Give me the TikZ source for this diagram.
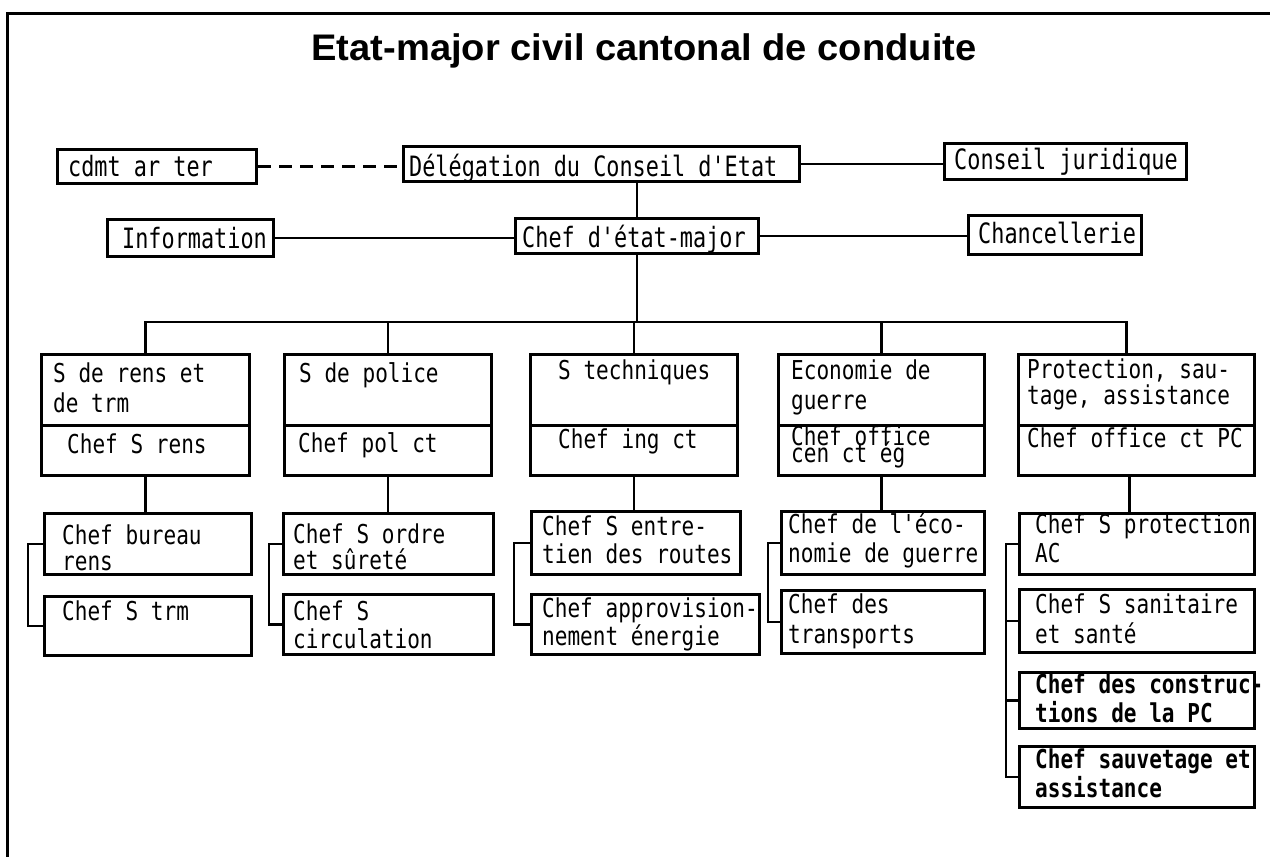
\documentclass[tikz,border=0pt]{standalone}
\usepackage{fontspec}
\setmainfont{DejaVu Sans Mono}
\newfontfamily\twf[FakeStretch=0.81]{DejaVu Sans Mono}
\newfontfamily\twtop[FakeStretch=0.78]{DejaVu Sans Mono}
\newfontfamily\titlef[FakeStretch=1.03]{Liberation Sans}
\newcommand\mybox[5]{\node[bx, minimum width=#4pt, minimum height=#5pt] (#1) at (#2,#3) {};}
% style, name, dx, baseline offset, box, text
\newcommand\btext[6]{\node[#1] (#2) at ([shift={(#3,#4-25)}]#5.north west) {\rule{0pt}{25pt}#6};}
\begin{document}
\begin{tikzpicture}[x=1pt,y=-1pt,
  bx/.style={draw, line width=3pt, inner sep=0pt, anchor=north west},
  ln/.style={line width=2.5pt},
  dln/.style={line width=2.5pt, dash pattern=on 13pt off 8pt},
  tx/.style={inner sep=0pt, anchor=north west, align=left, font=\twf\fontsize{26}{#1}\selectfont},
  tx/.default=28,
  txb/.style={tx=#1, font=\twf\bfseries\fontsize{26}{#1}\selectfont},
  txb/.default=29,
  txt/.style={inner sep=0pt, anchor=north west, align=left, font=\twtop\fontsize{28}{30}\selectfont},
]
\useasboundingbox (0,0) rectangle (1270,857);
\draw[line width=3pt] (7,857) -- (7,13) -- (1270,13);
\node[font=\titlef\bfseries\fontsize{37}{40}\selectfont, anchor=base, inner sep=0pt] (title) at (644,60) {Etat-major civil cantonal de conduite};

% top rows
\mybox{cdmt}{56}{148}{199}{34}
\btext{txt}{cdmtT}{12}{28}{cdmt}{cdmt ar ter}
\mybox{del}{402}{145}{396}{35}
\btext{txt}{delT}{7}{31}{del}{Délégation du Conseil d'Etat}
\mybox{cj}{943}{142}{242}{36}
\btext{txt}{cjT}{11}{27}{cj}{Conseil juridique}
\mybox{info}{106}{218}{166}{37}
\btext{txt}{infoT}{16}{30}{info}{Information}
\mybox{chef}{514}{217}{243}{35}
\btext{txt}{chefT}{8}{30}{chef}{Chef d'état-major}
\mybox{chan}{967}{214}{173}{39}
\btext{txt}{chanT}{11}{29}{chan}{Chancellerie}

% level 2
\mybox{t1}{40}{353}{208}{71}
\mybox{b1}{40}{424}{208}{50}
\btext{tx=30}{t1T}{13}{29}{t1}{S de rens et\\de trm}
\btext{tx}{b1T}{27}{29}{b1}{Chef S rens}
\mybox{t2}{283}{353}{207}{71}
\mybox{b2}{283}{424}{207}{50}
\btext{tx}{t2T}{16}{29}{t2}{S de police}
\btext{tx}{b2T}{15}{28}{b2}{Chef pol ct}
\mybox{t3}{529}{353}{207}{71}
\mybox{b3}{529}{424}{207}{50}
\btext{tx}{t3T}{29}{26}{t3}{S techniques}
\btext{tx}{b3T}{29}{24}{b3}{Chef ing ct}
\mybox{t4}{777}{353}{206}{71}
\mybox{b4}{777}{424}{206}{50}
\btext{tx=30}{t4T}{14}{26}{t4}{Economie de\\guerre}
\btext{tx}{b4T}{14}{21}{b4}{Chef office\\[-11pt]cen ct ég}
\mybox{t5}{1017}{353}{236}{71}
\mybox{b5}{1017}{424}{236}{50}
\btext{tx=26}{t5T}{10}{25}{t5}{Protection, sau-\\tage, assistance}
\btext{tx}{b5T}{10}{23}{b5}{Chef office ct PC}

% level 3
\mybox{c1a}{43}{512}{207}{61}
\btext{tx=26}{c1aT}{19}{32}{c1a}{Chef bureau\\rens}
\mybox{c1b}{43}{595}{207}{59}
\btext{tx}{c1bT}{19}{25}{c1b}{Chef S trm}
\mybox{c2a}{282}{512}{210}{61}
\btext{tx=26}{c2aT}{11}{31}{c2a}{Chef S ordre\\et sûreté}
\mybox{c2b}{282}{593}{210}{60}
\btext{tx}{c2bT}{11}{27}{c2b}{Chef S\\circulation}
\mybox{c3a}{530}{510}{209}{63}
\btext{tx}{c3aT}{12}{25}{c3a}{Chef S entre-\\tien des routes}
\mybox{c3b}{530}{593}{228}{60}
\btext{tx}{c3bT}{12}{24}{c3b}{Chef approvision-\\nement énergie}
\mybox{c4a}{780}{510}{203}{63}
\btext{tx=29}{c4aT}{8}{23}{c4a}{Chef de l'éco-\\nomie de guerre}
\mybox{c4b}{780}{589}{203}{63}
\btext{tx=30}{c4bT}{8}{24}{c4b}{Chef des\\transports}
\mybox{c5a}{1018}{512}{235}{61}
\btext{tx=29}{c5aT}{17}{21}{c5a}{Chef S protection\\AC}
\mybox{c5b}{1018}{588}{235}{63}
\btext{tx=30}{c5bT}{17}{25}{c5b}{Chef S sanitaire\\et santé}
\mybox{c5c}{1018}{671}{235}{56}
\btext{txb=29}{c5cT}{17}{22}{c5c}{Chef des construc-\\tions de la PC}
\mybox{c5d}{1018}{745}{235}{61}
\btext{txb=29}{c5dT}{17}{23}{c5d}{Chef sauvetage et\\assistance}

% connectors top
\draw[dln] (cdmt.east) -- (cdmt.east -| del.west);
\draw[ln] (del.east) -- (del.east -| cj.west);
\draw[ln] (chef.north |- del.south) -- (chef.north);
\draw[ln] (info.east) -- (info.east -| chef.west);
\draw[ln] (chef.east) -- (chef.east -| chan.west);
\path (chef.south) ++(0,67) coordinate (bus);
\draw[ln] (chef.south) -- (bus);
\draw[ln] (t1.north) -- (t1.north |- bus) -- ([xshift=-10pt]t5.north |- bus) -- ([xshift=-10pt]t5.north);
\draw[ln] (t2.north |- bus) -- (t2.north);
\draw[ln] (t3.north |- bus) -- (t3.north);
\draw[ln] (t4.north |- bus) -- (t4.north);

% level 2 -> 3
\draw[ln] (b1.south) -- (b1.south |- c1a.north);
\draw[ln] (b2.south) -- (b2.south |- c2a.north);
\draw[ln] (b3.south) -- (b3.south |- c3a.north);
\draw[ln] (b4.south) -- (b4.south |- c4a.north);
\draw[ln] ([xshift=-7pt]b5.south) -- ([xshift=-7pt]b5.south |- c5a.north);

% brackets
\draw[ln] (c1a.west) -- ++(-15,0) |- (c1b.west);
\draw[ln] (c2a.west) -- ++(-13,0) |- (c2b.west);
\draw[ln] (c3a.west) -- ++(-16,0) |- (c3b.west);
\draw[ln] (c4a.west) -- ++(-12,0) |- (c4b.west);
\draw[ln] (c5a.west) -- ++(-12,0) coordinate (k5) |- (c5d.west);
\draw[ln] (c5b.west) -- (c5b.west -| k5);
\draw[ln] (c5c.west) -- (c5c.west -| k5);
\end{tikzpicture}
\end{document}
